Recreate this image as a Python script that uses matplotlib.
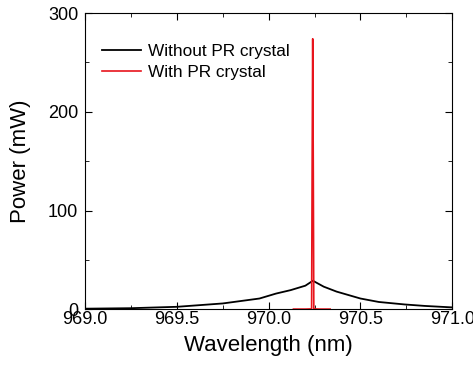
import matplotlib
matplotlib.use("Agg")
import matplotlib.pyplot as plt
from matplotlib.ticker import MultipleLocator, FormatStrFormatter

plt.rcParams['font.family'] = ['Liberation Sans', 'DejaVu Sans']

# spectrum without PR crystal (black)
wl_free = [969.0, 969.25, 969.5, 969.75, 969.95, 970.04, 970.12, 970.2, 970.241,
           970.3, 970.37, 970.5, 970.6, 970.74, 970.85, 971.0]
p_free = [0.7, 1.2, 2.6, 6.0, 11.0, 16.0, 19.5, 24.0, 29.0,
          23.0, 18.0, 11.0, 7.5, 5.0, 3.5, 2.0]

# spectrum with PR crystal (red)
wl_pr = [970.135, 970.2, 970.234, 970.237, 970.240, 970.243, 970.246, 970.28, 970.335]
p_pr = [0.3, 0.3, 0.5, 150.0, 274.0, 150.0, 0.5, 0.3, 0.3]

fig = plt.figure(figsize=(4.73, 3.75), dpi=100)
ax = fig.add_axes([0.18, 0.175, 0.776, 0.79])

ax.plot(wl_free, p_free, color="black", lw=1.3, label="Without PR crystal")
ax.plot(wl_pr, p_pr, color="#e8141c", lw=1.2, label="With PR crystal")

ax.set_xlim(969.0, 971.0)
ax.set_ylim(0, 300)
ax.xaxis.set_major_locator(MultipleLocator(0.5))
ax.xaxis.set_minor_locator(MultipleLocator(0.25))
ax.xaxis.set_major_formatter(FormatStrFormatter("%.1f"))
ax.yaxis.set_major_locator(MultipleLocator(100))
ax.yaxis.set_minor_locator(MultipleLocator(50))
ax.tick_params(which="both", direction="in", top=True, right=True, labelsize=13)
ax.tick_params(which="major", length=5)
ax.tick_params(which="minor", length=3)
ax.tick_params(axis="x", pad=1)
ax.tick_params(axis="y", pad=5)
ax.set_xlabel("Wavelength (nm)", fontsize=16, labelpad=5)
ax.set_ylabel("Power (mW)", fontsize=16, labelpad=12)

ax.legend(loc="upper left", frameon=False, fontsize=12.4, handlelength=2.3,
          handletextpad=0.4, labelspacing=0.35, borderaxespad=0.0,
          bbox_to_anchor=(0.026, 0.92))

fig.savefig("out.png", dpi=100)
